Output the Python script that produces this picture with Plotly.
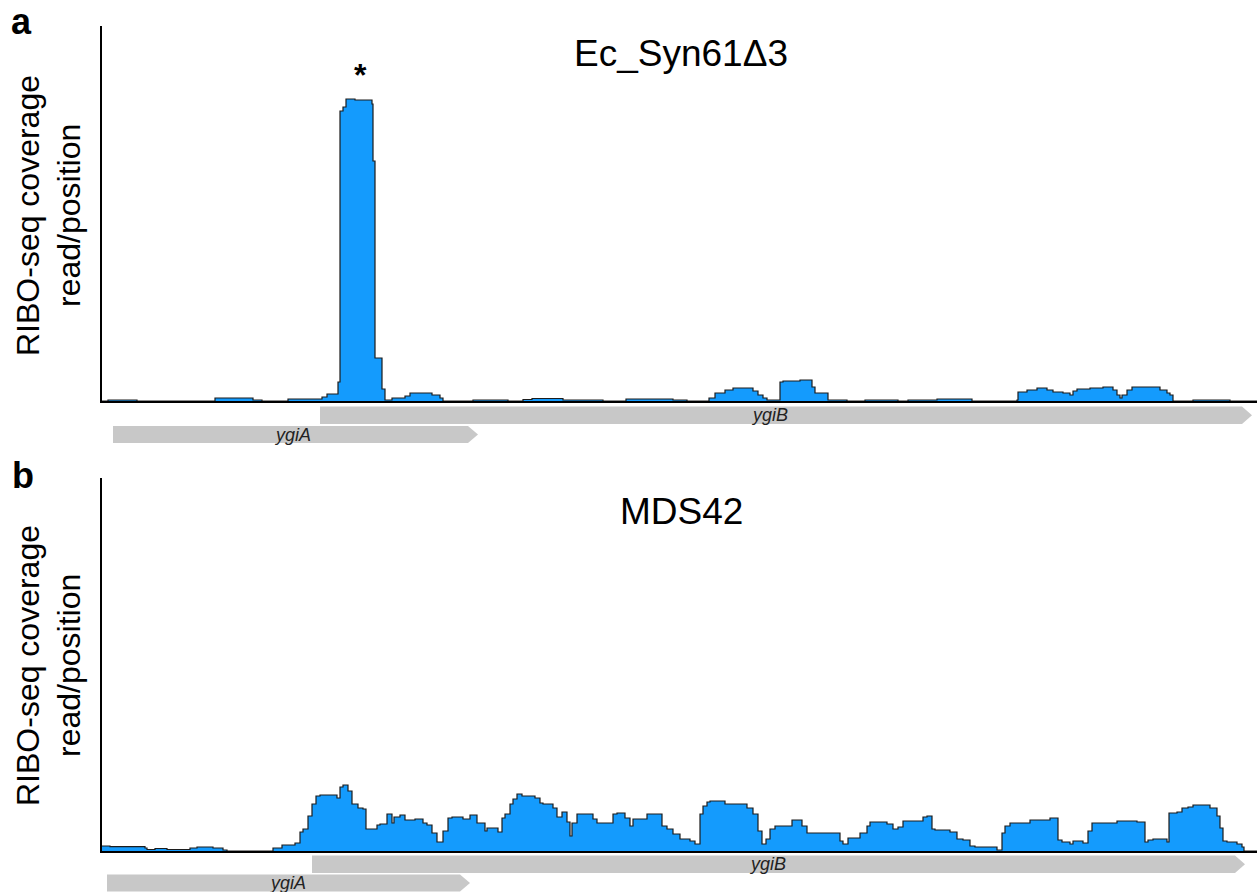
import plotly.graph_objects as go

W, H = 1257, 892

# ---------------- data ----------------
# Panel a (Ec_Syn61Δ3): step coverage, start position of each step and its value
a_pos = [102, 108, 137, 215, 253, 262, 288, 322, 327, 338, 340, 343, 346, 355, 372, 373, 375, 382, 385,
         392, 405, 410, 432, 440, 443, 473, 508, 523, 532, 563, 603, 626, 673, 687,
         709, 715, 725, 733, 753, 758, 763, 767, 780, 783, 800, 812, 815, 828, 847,
         865, 898, 908, 937, 972,
         1017, 1018, 1027, 1037, 1047, 1053, 1063, 1070, 1073, 1077, 1090, 1103, 1113, 1117, 1120, 1122,
         1127, 1132, 1160, 1167, 1170, 1173, 1193, 1230, 1257]
a_cov = [0, 1, 0, 3, 1, 0, 2, 4, 7, 19, 290, 294, 302, 301, 297, 240, 43, 12, 1,
         3, 5, 8, 6, 3, 0, 1, 0, 1.5, 2.5, 1, 0, 2, 1, 0,
         3, 8, 11, 13, 10, 6, 3, 1, 19, 20, 21, 14, 8, 1, 0,
         1, 0, 1, 2, 0,
         1, 9, 11, 13, 11, 9, 8, 6, 10, 12, 13, 14, 11, 6, 3, 6,
         11, 14, 11, 8, 6, 0, 1, 0, 0]

# Panel b (MDS42)
b_pos = [102, 110, 145, 147, 155, 167, 190, 197, 213, 223, 227,
         273, 282, 295, 300, 303, 308, 312, 316, 320, 337, 340, 343, 348, 352, 358, 363, 366, 377, 380,
         387, 392, 394, 400, 405, 415, 423, 427, 432, 437, 443, 448, 452, 463, 470, 477,
         480, 485, 487, 498, 502, 505, 510, 513, 517, 522, 535, 540, 543, 553, 557, 562, 567, 570, 572,
         577, 593, 597, 613, 617, 625, 630, 633, 647, 662, 667, 673, 680, 690, 695, 700, 703, 707, 710,
         725, 747, 753, 758, 762, 766, 770, 775, 792, 802, 807, 840, 843, 848, 860, 867,
         870, 887, 893, 898, 903, 923, 927, 932, 935, 950, 957, 963, 970, 975, 997, 1002, 1005, 1010,
         1030, 1050, 1058, 1062, 1070, 1073, 1083, 1088, 1092, 1117, 1137, 1145, 1148, 1153, 1167, 1169,
         1177, 1182, 1188, 1193, 1210, 1217, 1220, 1223, 1227, 1237, 1242, 1244, 1257]
b_cov = [5, 4.3, 3, 1.5, 2.5, 1.5, 3, 4, 3, 1, 0,
         3, 6, 8, 19, 22, 35, 47, 55, 56, 53, 64, 66, 60, 47, 43, 42, 22, 26, 27,
         37, 28, 34, 36, 31, 32, 28, 26, 18, 9, 20, 33, 34, 32, 36, 28,
         28, 20, 23, 19, 33, 37, 47, 52, 57, 55, 53, 48, 47, 43, 34, 39, 29, 15, 28,
         37, 32, 28, 37, 38, 33, 25, 32, 37, 25, 22, 17, 12, 10, 7, 37, 45, 49, 50,
         47, 43, 37, 20, 7, 12, 22, 25, 31, 25, 18, 10, 7, 13, 18, 25,
         29, 27, 22, 24, 30, 34, 35, 22, 21, 19, 12, 11, 5, 4, 1, 18, 25, 28,
         31, 33, 11, 9, 7, 10, 8, 20, 28, 30, 29, 9, 11, 12, 9, 38,
         39, 43, 44, 46, 43, 35, 23, 10, 9, 7, 4, 0, 0]

# Genes per panel: name, start, end, label position
genes_a_names = ["ygiB", "ygiA"]
genes_a_start = [320, 113]
genes_a_end = [1252, 478]
genes_a_label = [769, 292]

genes_b_names = ["ygiB", "ygiA"]
genes_b_start = [312, 107]
genes_b_end = [1245, 470]
genes_b_label = [767, 287]

titles = ["Ec_Syn61Δ3", "MDS42"]
panel_letters = ["a", "b"]
ylabel_lines = ["RIBO-seq coverage", "read/position"]

# ---------------- layout helpers ----------------
def py(p):
    return 1 - p / H

def px(p):
    return p / W

FILL = "#149BFD"
LINE = "#1c1c1c"
GENE = "#c8c8c8"
FONT = "Arial, Liberation Sans, sans-serif"

fig = go.Figure()

fig.add_trace(go.Scatter(x=a_pos, y=a_cov, mode="lines", line=dict(shape="hv", color=LINE, width=1.2),
                         fill="tozeroy", fillcolor=FILL, xaxis="x", yaxis="y", showlegend=False,
                         hoverinfo="skip"))
fig.add_trace(go.Scatter(x=b_pos, y=b_cov, mode="lines", line=dict(shape="hv", color=LINE, width=1.2),
                         fill="tozeroy", fillcolor=FILL, xaxis="x2", yaxis="y2", showlegend=False,
                         hoverinfo="skip"))

axis_common = dict(showline=True, linecolor="black", linewidth=2, showgrid=False, zeroline=False,
                   showticklabels=False, ticks="", fixedrange=True)

fig.update_layout(
    width=W, height=H, autosize=False,
    margin=dict(l=0, r=0, t=0, b=0),
    paper_bgcolor="white", plot_bgcolor="white",
    xaxis=dict(domain=[px(102), 1.0], range=[102, 1257], anchor="y", **axis_common),
    yaxis=dict(domain=[py(401), py(26)], range=[0, 375], anchor="x", **axis_common),
    xaxis2=dict(domain=[px(102), 1.0], range=[102, 1257], anchor="y2", **axis_common),
    yaxis2=dict(domain=[py(851), py(478)], range=[0, 373], anchor="x2", **axis_common),
)

shapes = []
annotations = []

def ann(x, y, text, size, xref="paper", bold=False, italic=False, angle=0, color="black"):
    if bold:
        text = f"<b>{text}</b>"
    if italic:
        text = f"<i>{text}</i>"
    return dict(x=x, y=y, xref=xref, yref="paper", text=text, showarrow=False,
                xanchor="center", yanchor="middle", textangle=angle,
                font=dict(family=FONT, size=size, color=color))

def gene_arrow(xref, start, end, top, bottom):
    tip = 10
    mid = (top + bottom) / 2
    path = (f"M {start},{py(top)} L {end - tip},{py(top)} L {end},{py(mid)} "
            f"L {end - tip},{py(bottom)} L {start},{py(bottom)} Z")
    return dict(type="path", xref=xref, yref="paper", path=path, fillcolor=GENE,
                line=dict(width=0), layer="below")

tracks_a = [(406.5, 424.0), (426.0, 443.0)]
tracks_b = [(855.5, 873.0), (874.5, 891.5)]
for i, name in enumerate(genes_a_names):
    t, b = tracks_a[i]
    shapes.append(gene_arrow("x", genes_a_start[i], genes_a_end[i], t, b))
    annotations.append(ann(genes_a_label[i], py((t + b) / 2), name, 18, xref="x", italic=True, color="#222"))
for i, name in enumerate(genes_b_names):
    t, b = tracks_b[i]
    shapes.append(gene_arrow("x2", genes_b_start[i], genes_b_end[i], t, b))
    annotations.append(ann(genes_b_label[i], py((t + b) / 2), name, 18, xref="x2", italic=True, color="#222"))

# Titles
annotations.append(ann(px(681), py(53), titles[0], 37))
annotations.append(ann(px(681), py(511), titles[1], 37))

# Asterisk above the peak
annotations.append(ann(360, py(75), "*", 32, xref="x", bold=True))

# Panel letters
annotations.append(ann(px(21.5), py(21), panel_letters[0], 36, bold=True))
annotations.append(ann(px(23), py(475), panel_letters[1], 36, bold=True))

# Y-axis titles (two lines each, rotated)
for yc in (216, 666):
    annotations.append(ann(px(28), py(yc), ylabel_lines[0], 32, angle=-90))
    annotations.append(ann(px(69), py(yc), ylabel_lines[1], 32, angle=-90))

fig.update_layout(shapes=shapes, annotations=annotations)

fig.write_html("out.html")
